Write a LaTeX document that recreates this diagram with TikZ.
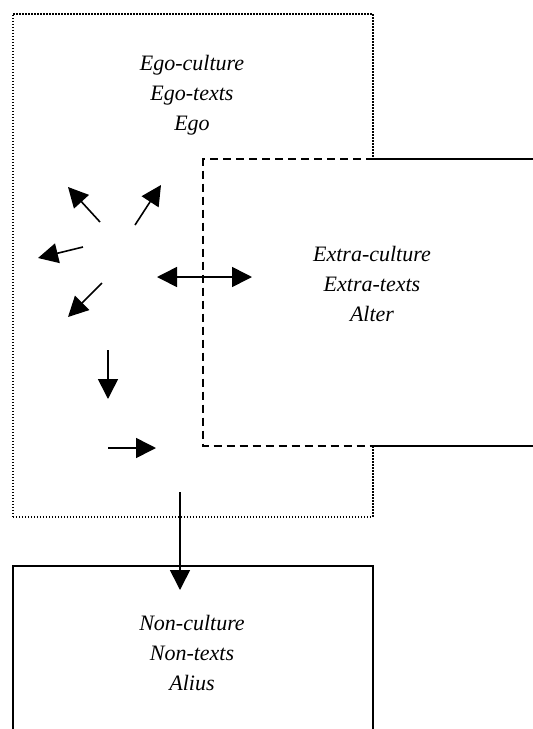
\documentclass[tikz,border=0pt]{standalone}
\usepackage{fontspec}
\setmainfont{Liberation Serif}
\usetikzlibrary{
  arrows.meta,
  positioning,
}
\tikzstyle{arrow} = [
  -{Triangle[length=10pt,width=10pt]},
  line width=0.8pt,
]
\tikzstyle{twoway} = [
  {Triangle[length=10pt,width=10pt]}-{Triangle[length=10pt,width=10pt]},
  line width=0.8pt,
]
\tikzstyle{culturetext} = [
  align=center,
  font=\fontsize{11}{15}\selectfont\itshape,
]

\begin{document}
\begin{tikzpicture}[x=0.5pt,y=-0.5pt,node distance=0mm and 0mm]
      \useasboundingbox (0,0) rectangle (533,729);
      \clip (0,0) rectangle (533,729);

      \node[rectangle,draw,line width=0.75pt,dash pattern=on 0.75pt off 0.75pt,minimum width=180pt,minimum height=251.5pt,anchor=north west] (ego) at (12,13) {};
      \node[rectangle,fill=white,minimum width=200pt,minimum height=143pt,anchor=north west] (extra) at (203,159) {};
      \node[rectangle,draw,line width=0.9pt,minimum width=180pt,minimum height=100pt,anchor=north west] (non) at (12,565) {};

      \draw[line width=0.8pt,dash pattern=on 4pt off 2.5pt] (ego.east |- extra.north) -- (extra.north west) -- (extra.south west) -- (ego.east |- extra.south);
      \draw[line width=0.8pt] (ego.east |- extra.north) -- (extra.north east);
      \draw[line width=0.8pt] (ego.east |- extra.south) -- (extra.south east);

      \node[culturetext] (egotext)   at (192,95)  {Ego-culture\\Ego-texts\\Ego};
      \node[culturetext] (extratext) at (372,284) {Extra-culture\\Extra-texts\\Alter};
      \node[culturetext] (nontext)   at (192,653) {Non-culture\\Non-texts\\Alius};

      \foreach \n/\x/\y in {a1/100/222, b1/68/187, a2/135/225, b2/161/185,
                            a3/83/247, b3/38/258, a4/102/283, b4/68/317,
                            a5/108/350, b5/108/399, a6/108/448, b6/156/448}
        \coordinate (\n) at (\x,\y);
      \foreach \i in {1,...,6}
        \draw[arrow] (a\i) -- (b\i);

      \coordinate (left)  at (157,277);
      \coordinate (right) at (252,277);
      \draw[twoway] (left) -- (right);

      \coordinate (exit)  at (180,492);
      \coordinate (entry) at (180,590);
      \draw[arrow] (exit) -- (entry);

    \end{tikzpicture}
\end{document}
